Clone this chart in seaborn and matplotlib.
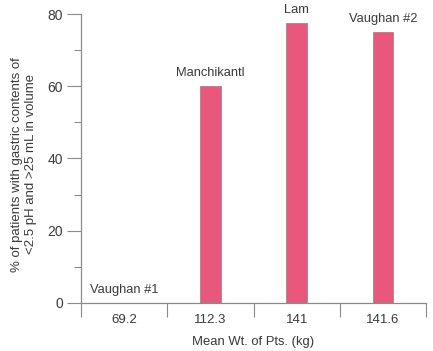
import pandas as pd
import matplotlib
matplotlib.use('Agg')
import matplotlib.pyplot as plt
import seaborn as sns

# data
studies = ['Vaughan #1', 'Manchikantl', 'Lam', 'Vaughan #2']
weights = ['69.2', '112.3', '141', '141.6']
percent = [0, 60, 77.5, 75]

data = pd.DataFrame({'Study': studies, 'Weight': weights, 'Percent': percent})

sns.set_style('white')
plt.rcParams['font.family'] = ['Liberation Sans', 'DejaVu Sans']

text_col = '#3a3a3a'
axis_col = '#8a8a8a'

fig = plt.figure(figsize=(4.33, 3.51), dpi=100)
ax = fig.add_axes([0.187, 0.137, 0.797, 0.823])

sns.barplot(data=data, x='Weight', y='Percent', color='#e9577c', width=0.24,
            edgecolor='#9a8a8e', linewidth=0.6, saturation=1, ax=ax)

ax.set_xlim(-0.5, 3.5)
ax.set_ylim(0, 80)

# study names above the bars
for i, (name, val) in enumerate(zip(studies, percent)):
    ax.text(i, val + 1.9, name, ha='center', va='bottom', fontsize=9.3, color=text_col)

ax.set_yticks([0, 20, 40, 60, 80])
ax.set_yticks([10, 30, 50, 70], minor=True)
ax.set_xticks([-0.5, 0.5, 1.5, 2.5, 3.5], minor=True)

ax.tick_params(axis='y', which='major', length=10, width=0.8, color=axis_col,
               labelsize=10, labelcolor=text_col, pad=3, left=True)
ax.tick_params(axis='y', which='minor', length=5, width=0.8, color=axis_col, left=True)
ax.tick_params(axis='x', which='major', length=0, labelsize=9.5, labelcolor=text_col, pad=8)
ax.tick_params(axis='x', which='minor', length=10, width=0.8, color=axis_col, bottom=True)

for side in ['top', 'right']:
    ax.spines[side].set_visible(False)
for side in ['left', 'bottom']:
    ax.spines[side].set_color(axis_col)
    ax.spines[side].set_linewidth(0.9)

ax.set_xlabel('Mean Wt. of Pts. (kg)', fontsize=9.4, color=text_col, labelpad=7)
ax.set_ylabel('% of patients with gastric contents of\n<2.5 pH and >25 mL in volume',
              fontsize=9.5, color=text_col)
ax.yaxis.set_label_coords(-0.128, 0.48)

plt.savefig('out.png', dpi=100)
